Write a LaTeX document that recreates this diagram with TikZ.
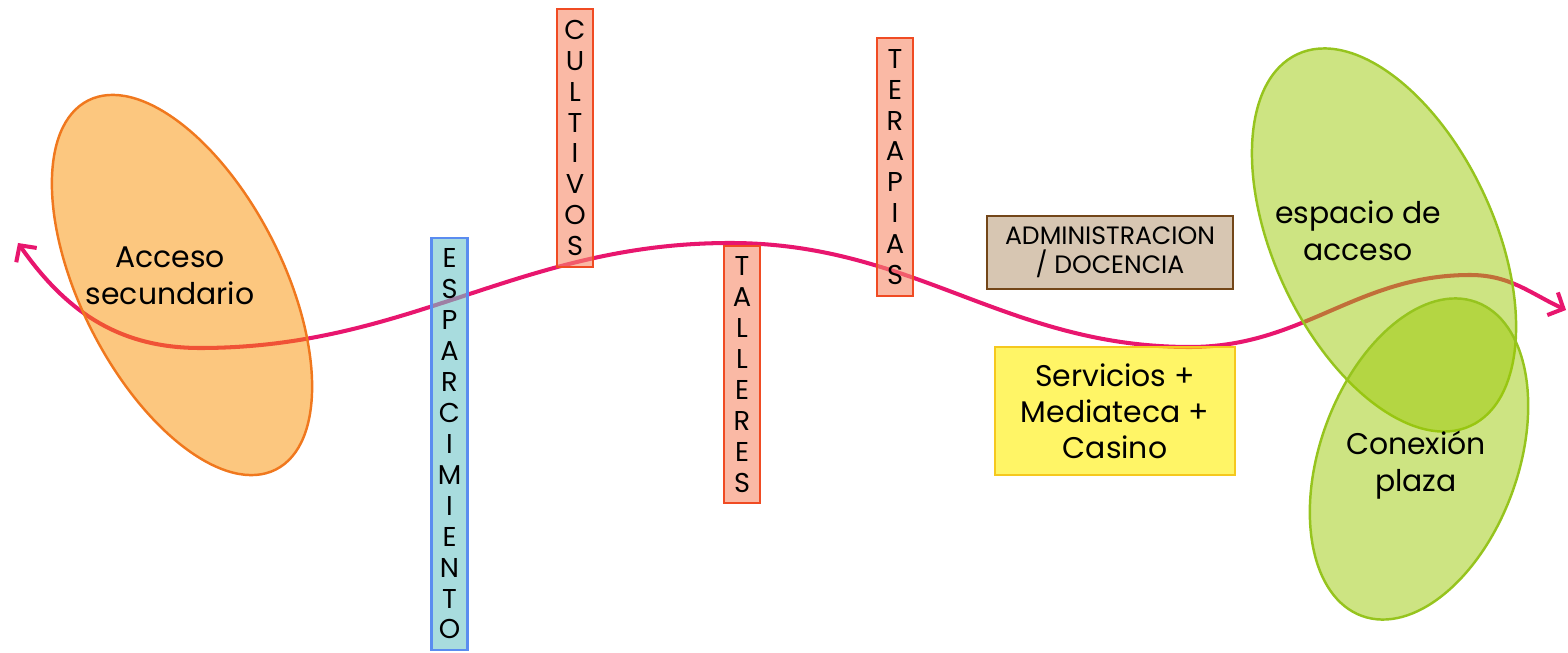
\documentclass[tikz,border=0pt]{standalone}
\usepackage{fontspec}
\setmainfont{Poppins}
\usepackage{tikz}
\usetikzlibrary{arrows.meta,positioning,shapes.geometric}
\definecolor{flowpink}{RGB}{232,22,110}
\definecolor{accfill}{RGB}{249,143,0}
\definecolor{accline}{RGB}{240,120,30}
\definecolor{greenfill}{RGB}{155,201,5}
\definecolor{greenline}{RGB}{150,196,30}
\definecolor{tealfill}{RGB}{110,197,200}
\definecolor{blueline}{RGB}{90,140,240}
\definecolor{salmonfill}{RGB}{247,138,105}
\definecolor{redline}{RGB}{240,75,35}
\definecolor{tanfill}{RGB}{188,160,127}
\definecolor{brownline}{RGB}{115,70,25}
\definecolor{yellowfill}{RGB}{255,238,0}
\definecolor{goldline}{RGB}{245,200,30}
\tikzset{
  zone/.style={ellipse,line width=1.4pt,inner sep=0pt,fill opacity=0.5},
  acczone/.style={zone,draw=accline,fill=accfill},
  greenzone/.style={zone,draw=greenline,fill=greenfill},
  zonetext/.style={align=center,font=\fontsize{17}{21}\selectfont},
  strip/.style={draw=redline,line width=1.6pt,fill=salmonfill,fill opacity=0.6,text opacity=1,minimum width=0.72cm,inner sep=0pt,align=center,font=\fontsize{15.5}{17.6}\selectfont},
  bluestrip/.style={strip,draw=blueline,fill=tealfill},
  block/.style={line width=1.6pt,fill opacity=0.6,text opacity=1,inner sep=0pt,align=center},
  flow/.style={{Straight Barb[length=2.4mm,width=5mm]}-{Straight Barb[length=2.4mm,width=5mm]},draw=flowpink,line width=2.3pt}
}

\begin{document}
\begin{tikzpicture}
  \useasboundingbox (0,0) rectangle (31.36,-13.06);

  % recorrido principal
  \coordinate (west) at (0.36,-4.86);
  \coordinate (low1) at (4.00,-6.96);
  \coordinate (top1) at (14.60,-4.86);
  \coordinate (low2) at (23.80,-6.94);
  \coordinate (top2) at (29.40,-5.50);
  \coordinate (east) at (31.32,-6.20);
  \draw[flow] (west) to[out=-55,in=180] (low1) to[out=0,in=180] (top1)
    to[out=0,in=180] (low2) to[out=0,in=180] (top2) to[out=0,in=155] (east);

  % zonas de acceso
  \node[acczone,minimum width=4.04cm,minimum height=8.28cm,rotate=27] (acc) at (3.64,-5.70) {};
  \node[zonetext] (acctext) at (3.40,-5.52) {Acceso\\secundario};

  \node[greenzone,minimum width=4.4cm,minimum height=8.2cm,rotate=25] (esp) at (27.68,-4.80) {};
  \node[greenzone,minimum width=3.96cm,minimum height=6.68cm,rotate=-20] (plaza) at (28.38,-9.18) {};
  \node[zonetext] (esptext) at (27.16,-4.62) {espacio de\\acceso};
  \node[zonetext] (plazatext) at (28.32,-9.30) {Conexión\\plaza};

  % franjas de programa
  \node[bluestrip,minimum height=8.24cm] (espar) at (8.99,-8.88) {E\\S\\P\\A\\R\\C\\I\\M\\I\\E\\N\\T\\O};
  \node[strip,minimum height=5.16cm] (cult) at (11.50,-2.76) {C\\U\\L\\T\\I\\V\\O\\S};
  \node[strip,minimum height=5.14cm] (tall) at (14.84,-7.49) {T\\A\\L\\L\\E\\R\\E\\S};
  \node[strip,minimum height=5.16cm] (terap) at (17.90,-3.34) {T\\E\\R\\A\\P\\I\\A\\S};

  \node[block,draw=brownline,fill=tanfill,minimum width=4.92cm,minimum height=1.46cm,font=\fontsize{14.3}{16.5}\selectfont] (admin) at (22.20,-5.05) {ADMINISTRACION\\/ DOCENCIA};
  \node[block,draw=goldline,fill=yellowfill,minimum width=4.80cm,minimum height=2.56cm,font=\fontsize{17}{20.5}\selectfont] (serv) at (22.30,-8.22) {Servicios +\\Mediateca +\\Casino};
\end{tikzpicture}
\end{document}
